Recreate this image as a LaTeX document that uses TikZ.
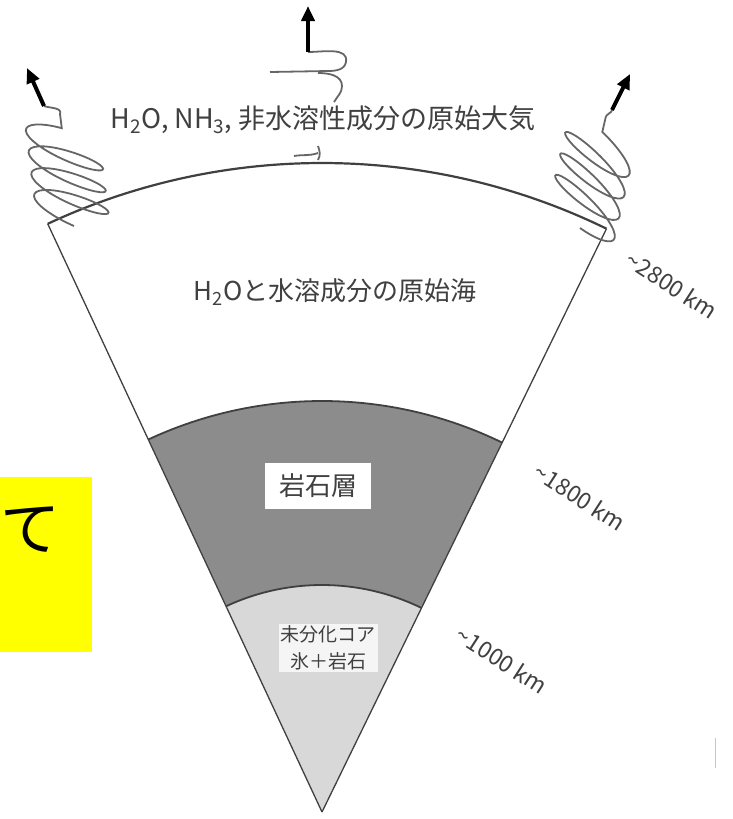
\documentclass[tikz,border=0pt]{standalone}
\usepackage{fontspec}
\setmainfont{Noto Sans CJK JP}
\usetikzlibrary{decorations.pathmorphing,arrows.meta}

\definecolor{ink}{HTML}{404040}
\definecolor{rock}{HTML}{8C8C8C}
\definecolor{core}{HTML}{D8D8D8}
\definecolor{marker}{HTML}{FFFF00}

\tikzset{
  edge/.style={draw=ink, line width=1.3pt},
  wire/.style={draw=ink!80, line width=1.8pt},
  spring/.style={wire, decorate,
    decoration={coil, amplitude=36pt, segment length=22pt, aspect=0.3}},
  escape/.style={line width=4pt, -{Triangle[length=15pt,width=13pt]}},
  layer/.style={font=\fontsize{26}{28}\selectfont, text=ink, inner sep=2pt},
  depth/.style={font=\fontsize{23}{24}\selectfont, text=ink, rotate=-33},
}

\begin{document}
\begin{tikzpicture}[x=1pt, y=-1pt]
  \useasboundingbox (0,0) rectangle (732,819);
  \coordinate (apex) at (322,812);

  % left margin marker
  \fill[marker] (0,477) rectangle (92,652);
  \node (te) at (31,530) {\fontsize{60}{60}\selectfont て};

  % the three shells, largest first
  \fill[white] (apex) -- ++(-115:649) arc[start angle=-115, end angle=-64, radius=649] -- cycle;
  \fill[rock]  (apex) -- ++(-115:411) arc[start angle=-115, end angle=-64, radius=411] -- cycle;
  \fill[core]  (apex) -- ++(-115:227) arc[start angle=-115, end angle=-64, radius=227] -- cycle;

  \draw[edge] (apex) -- ++(-115:649);
  \draw[edge] (apex) -- ++(-64:649);
  \draw[edge, line width=2.2pt] (apex) ++(-115:649) arc[start angle=-115, end angle=-64, radius=649];
  \draw[edge, line width=1.8pt] (apex) ++(-115:411) arc[start angle=-115, end angle=-64, radius=411];
  \draw[edge, line width=1.8pt] (apex) ++(-115:227) arc[start angle=-115, end angle=-64, radius=227];

  % escaping gas: left spring
  \coordinate (lbot) at (74,226);  \coordinate (ltop) at (60,114);
  \coordinate (ltail) at (44,106); \coordinate (ltip) at (27,68);
  \draw[spring, decoration={transform={xslant=0.5}}] (lbot) -- (ltop);
  \draw[wire] (ltop) to[out=70, in=-20] (ltail);
  \draw[escape] (ltail) -- (ltip);

  % centre wisp
  \coordinate (ctail) at (308,52); \coordinate (ctip) at (308,6);
  \draw[wire] (ctail) to[out=0, in=80] (346,62) to[out=-100, in=0] (328,71) -- (270,72);
  \draw[wire] (318,73) to[out=0, in=90] (342,86) to[out=-90, in=60] (334,102);
  \draw[wire] (318,146) to[out=-70, in=60] (318,160);
  \draw[wire] (294,156) to[out=10, in=200] (318,153);
  \draw[escape] (ctail) -- (ctip);

  % right spring
  \coordinate (rbot) at (580,228); \coordinate (rtop) at (606,116);
  \coordinate (rtail) at (612,110); \coordinate (rtip) at (630,74);
  \draw[spring, decoration={mirror, transform={xslant=0.5}}] (rbot) -- (rtop);
  \draw[wire] (rtop) to[out=60, in=-100] (rtail);
  \draw[escape] (rtail) -- (rtip);

  % layer names
  \node[layer, fill=white, font=\fontsize{27}{28}\selectfont] (air) at (323,120) {H\textsubscript{2}O, NH\textsubscript{3}, 非水溶性成分の原始大気};
  \node[layer] (sea) at (335,292) {H\textsubscript{2}Oと水溶成分の原始海};
  \node[layer, fill=white, inner xsep=14pt, inner ysep=11pt] (crust) at (318,486) {岩石層};
  \node[layer, fill=gray!8, font=\fontsize{19}{27}\selectfont, align=center] (mix) at (328,648) {未分化コア\\氷＋岩石};

  % depths
  \node[depth] (d1) at (672,285) {\textasciitilde 2800 km};
  \node[depth] (d2) at (580,497) {\textasciitilde 1800 km};
  \node[depth] (d3) at (502,660) {\textasciitilde 1000 km};

  \draw[gray!45, line width=1pt] (715,738) -- (715,768);
\end{tikzpicture}
\end{document}
